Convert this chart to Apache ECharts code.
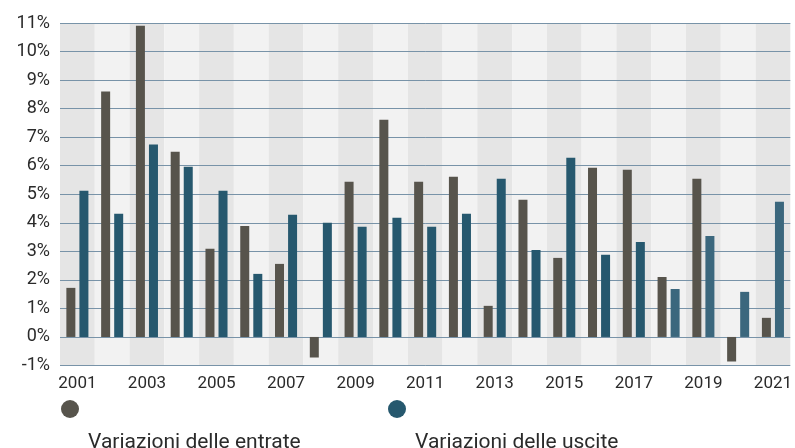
<!DOCTYPE html>
<html>
<head>
<meta charset="utf-8">
<script src="https://cdn.jsdelivr.net/npm/echarts@6/dist/echarts.min.js"></script>
<style>
html,body{margin:0;padding:0;background:#fff;}
#chart{width:795px;height:448px;}
</style>
</head>
<body>
<div id="chart"></div>
<script>
const years = ['2001','2002','2003','2004','2005','2006','2007','2008','2009','2010','2011','2012','2013','2014','2015','2016','2017','2018','2019','2020','2021'];
const entrate = [1.72, 8.6, 10.9, 6.49, 3.09, 3.89, 2.56, -0.72, 5.44, 7.61, 5.44, 5.61, 1.09, 4.81, 2.77, 5.93, 5.86, 2.1, 5.54, -0.86, 0.67];
const uscite = [5.12, 4.32, 6.74, 5.96, 5.12, 2.21, 4.28, 4.0, 3.86, 4.18, 3.86, 4.32, 5.54, 3.05, 6.28, 2.88, 3.33, 1.68, 3.54, 1.58, 4.74];
const lightFrom = '2018';
const seriesNames = ['Variazioni delle entrate', 'Variazioni delle uscite'];
const colEntrate = '#57544c';
const colUscite = '#26586e';
const colUsciteLight = '#3b677d';

const chart = echarts.init(document.getElementById('chart'));
const font = 'Roboto, "Liberation Sans", sans-serif';
const legendText = {
  fontSize: 21, color: '#2b2b2b', fontFamily: font,
  rich: {t: {fontSize: 21, color: '#2b2b2b', fontFamily: font, padding: [68, 0, 0, 4]}}
};
chart.setOption({
  animation: false,
  grid: {left: 60, right: 3, top: 23, bottom: 82.5},
  xAxis: {
    type: 'category',
    data: years,
    z: 0,
    axisLine: {show: false, onZero: false},
    axisTick: {show: false},
    axisLabel: {interval: 1, color: '#2b2b2b', fontSize: 17, fontFamily: font, margin: 10},
    splitArea: {show: true, interval: 0, areaStyle: {color: ['#e5e5e5', '#f2f2f2']}}
  },
  yAxis: {
    type: 'value',
    z: 1,
    min: -1, max: 11, interval: 1,
    axisLine: {show: false},
    axisTick: {show: false},
    axisLabel: {formatter: '{value}%', color: '#2b2b2b', fontSize: 18, fontFamily: font, margin: 10},
    splitLine: {lineStyle: {color: '#7893a8', width: 1}}
  },
  legend: [
    {
      data: [seriesNames[0]], left: 61, top: 400, padding: 0, icon: 'circle', itemWidth: 18, itemHeight: 18,
      formatter: n => '{t|' + n + '}', textStyle: legendText
    },
    {
      data: [seriesNames[1]], left: 388, top: 400, padding: 0, icon: 'circle', itemWidth: 18, itemHeight: 18,
      formatter: n => '{t|' + n + '}', textStyle: legendText
    }
  ],
  series: [
    {
      name: seriesNames[0], type: 'bar', data: entrate, barWidth: 9, barGap: '45%', z: 3,
      itemStyle: {color: colEntrate}
    },
    {
      name: seriesNames[1], type: 'bar', barWidth: 9, barGap: '45%', z: 3,
      itemStyle: {color: colUscite},
      data: uscite.map((v, i) => years[i] >= lightFrom ? {value: v, itemStyle: {color: colUsciteLight}} : v)
    }
  ]
});
</script>
</body>
</html>
